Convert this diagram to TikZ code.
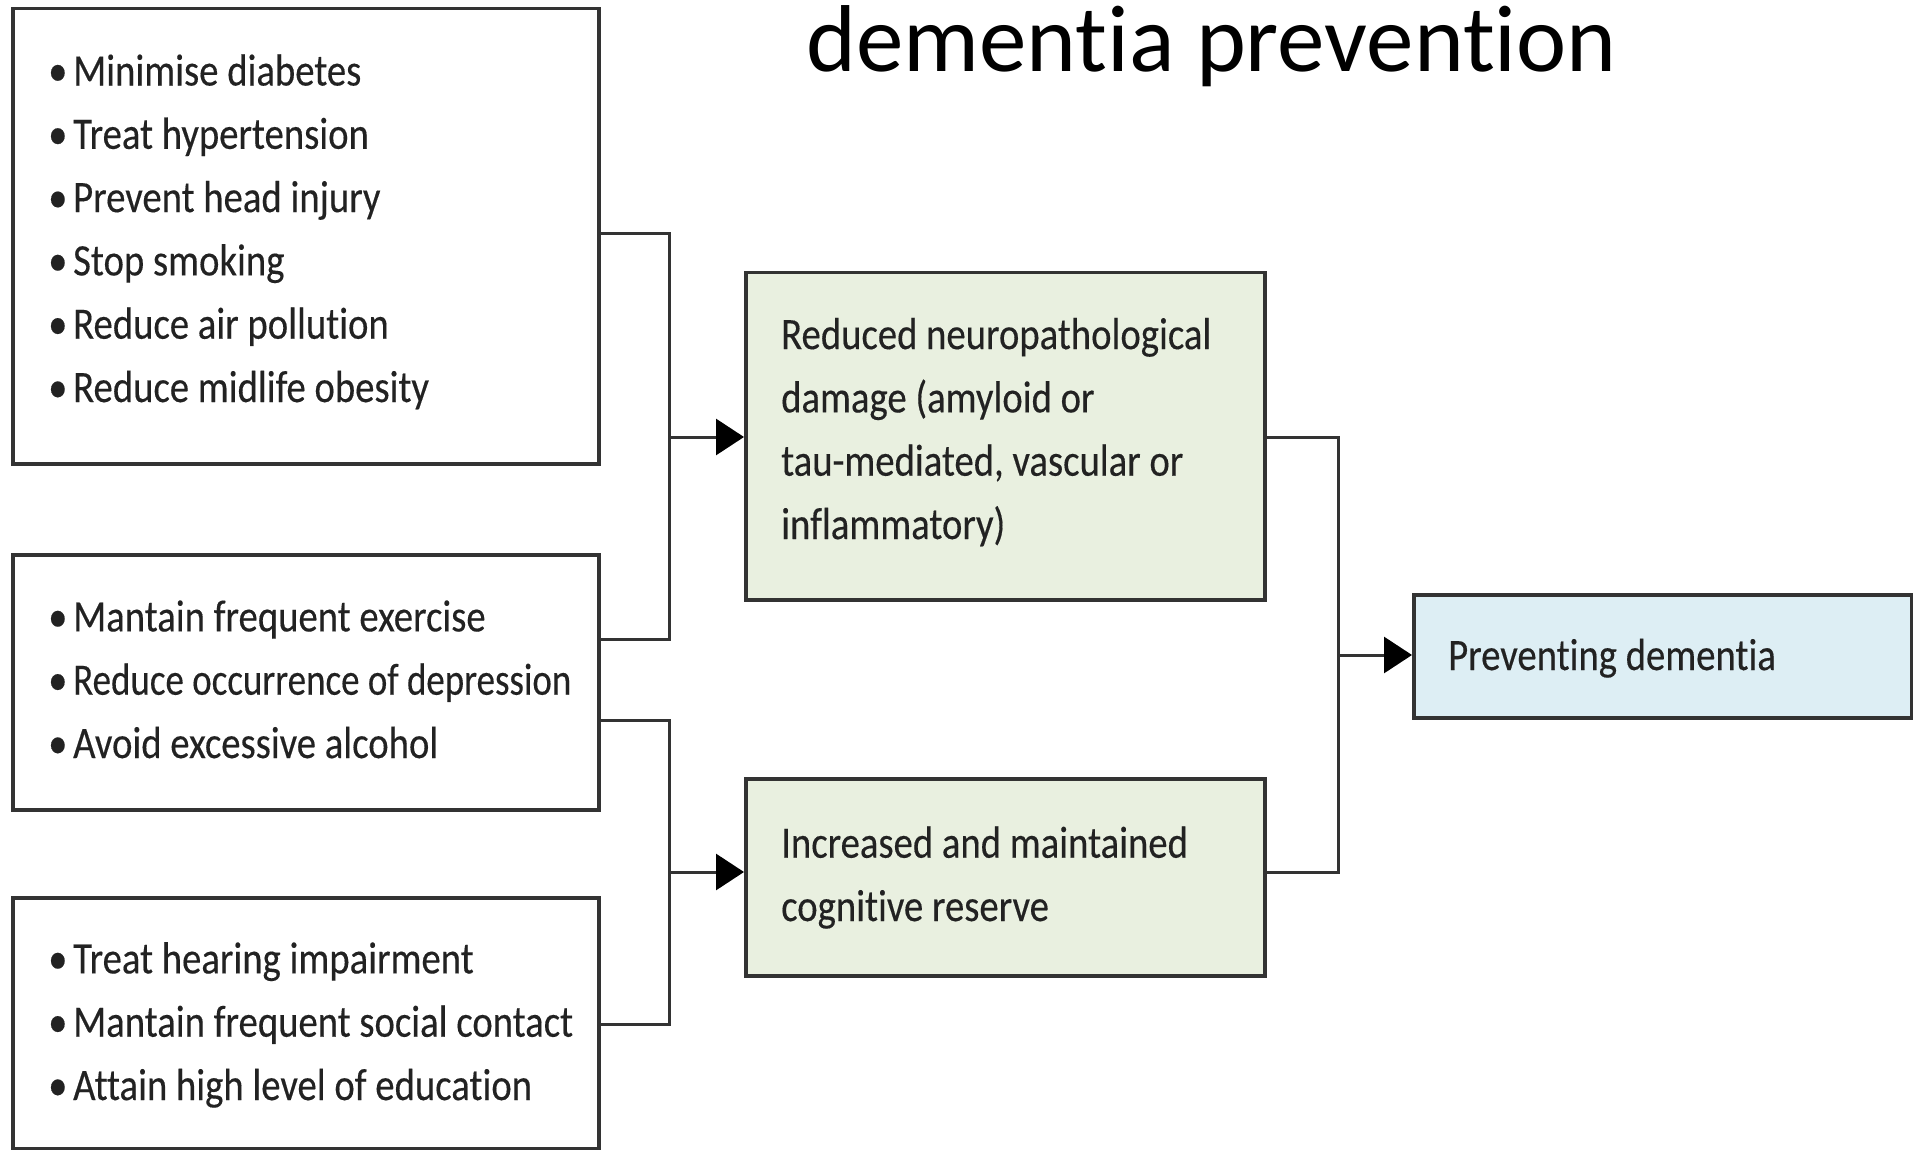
\documentclass[tikz,border=0pt]{standalone}
\usepackage{fontspec}
\usepackage{graphicx}
\setmainfont{Carlito}[Ligatures=NoCommon]
\newfontfamily\lancet{Carlito}[FakeStretch=0.86,FakeBold=0.3,Ligatures=NoCommon]
\usetikzlibrary{arrows.meta}
\definecolor{txt}{HTML}{222222}
\definecolor{edge}{HTML}{333333}
\definecolor{gfill}{HTML}{E9F0E0}
\definecolor{bfill}{HTML}{DDEEF4}
\newcommand\bul{\makebox[25pt][l]{\textbullet}}
\begin{document}
\begin{tikzpicture}[x=1pt,y=-1pt,
  box/.style={draw=edge, line width=3.5pt, inner sep=0pt, anchor=north west},
  lbl/.style={anchor=base west, align=left, inner sep=0pt, text=txt,
    font=\lancet\fontsize{45}{63.3}\selectfont},
  conn/.style={draw=edge, line width=3pt},
  arr/.style={conn, -{Triangle[length=28pt,width=36pt,fill=black,color=black]}}]
\useasboundingbox (0,0) rectangle (1913,1150);
% title
\node[anchor=base west, inner sep=0pt, font=\fontsize{95}{95}\selectfont] (title) at (806,72) {dementia prevention};
% left boxes
\node[box, minimum width=586pt, minimum height=455pt] (r1) at (11,7) {};
\node[box, minimum width=586pt, minimum height=255pt] (r2) at (11,553) {};
\node[box, minimum width=586pt, minimum height=251pt] (r3) at (11,896) {};
% middle and right boxes
\node[box, fill=gfill, minimum width=519pt, minimum height=327pt] (g1) at (744,271) {};
\node[box, fill=gfill, minimum width=519pt, minimum height=197pt] (g2) at (744,777) {};
\node[box, fill=bfill, minimum width=498pt, minimum height=123pt] (b) at (1412,593) {};
% texts (anchored at the baseline of their last line)
\node[lbl] (t1) at (48,402) {\bul Minimise diabetes\\ \bul Treat hypertension\\ \bul Prevent head injury\\ \bul Stop smoking\\ \bul Reduce air pollution\\ \bul Reduce midlife obesity};
\node[lbl] (t2) at (48,758) {\bul Mantain frequent exercise\\ \bul \scalebox{0.955}[1]{Reduce occurrence of depression}\\ \bul Avoid excessive alcohol};
\node[lbl] (t3) at (48,1100) {\bul Treat hearing impairment\\ \bul Mantain frequent social contact\\ \bul Attain high level of education};
\node[lbl] (tg1) at (781,539) {Reduced neuropathological\\damage (amyloid or\\tau-mediated, vascular or\\inflammatory)};
\node[lbl] (tg2) at (781,921) {Increased and maintained\\cognitive reserve};
\node[lbl] (tb) at (1448,670) {Preventing dementia};
% connectors
\coordinate (a1) at (669,234);
\coordinate (a2) at (669,639);
\coordinate (j1) at (669,437);
\coordinate (c1) at (669,720);
\coordinate (c2) at (669,1024);
\coordinate (j2) at (669,872);
\coordinate (d1) at (1338,437);
\coordinate (d2) at (1338,872);
\coordinate (j3) at (1338,655);
\draw[conn] (r1.east |- a1) -- (a1) -- (a2) -- (r2.east |- a2);
\draw[arr] (j1) -- (g1.west |- j1);
\draw[conn] (r2.east |- c1) -- (c1) -- (c2) -- (r3.east |- c2);
\draw[arr] (j2) -- (g2.west |- j2);
\draw[conn] (g1.east |- d1) -- (d1) -- (d2) -- (g2.east |- d2);
\draw[arr] (j3) -- (b.west |- j3);
\end{tikzpicture}
\end{document}
